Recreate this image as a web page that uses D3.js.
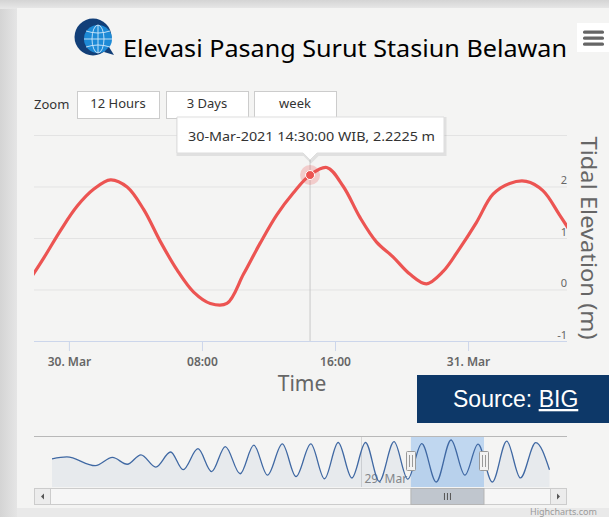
<!DOCTYPE html>
<html><head><meta charset="utf-8">
<script src="https://cdn.jsdelivr.net/npm/d3@7"></script>
<style>
html,body{margin:0;padding:0;background:#d8d8d8;overflow:hidden}
svg{display:block}
</style></head>
<body>
<svg id="chart" width="609" height="517"></svg>
<script>
// ---------------- data ----------------
const chartTitle = "Elevasi Pasang Surut Stasiun Belawan";
const xAxisTitle = "Time";
const yAxisTitle = "Tidal Elevation (m)";
const zoomLabels = ["12 Hours", "3 Days", "week"];
const sourceLabel = "Source: ";
const sourceLink = "BIG";

// main view (tidal elevation, m)
const tideTimes = [
  "2021-03-29 21:30","2021-03-29 22:30","2021-03-29 23:30","2021-03-30 00:30","2021-03-30 01:30",
  "2021-03-30 02:30","2021-03-30 03:30","2021-03-30 04:30","2021-03-30 05:30","2021-03-30 06:30",
  "2021-03-30 07:30","2021-03-30 08:30","2021-03-30 09:30","2021-03-30 10:30","2021-03-30 11:30",
  "2021-03-30 12:30","2021-03-30 13:30","2021-03-30 14:30","2021-03-30 15:30","2021-03-30 16:30",
  "2021-03-30 17:30","2021-03-30 18:30","2021-03-30 19:30","2021-03-30 20:30","2021-03-30 21:30",
  "2021-03-30 22:30","2021-03-30 23:30","2021-03-31 00:30","2021-03-31 01:30","2021-03-31 02:30",
  "2021-03-31 03:30","2021-03-31 04:30","2021-03-31 05:30","2021-03-31 06:30"];
const tideValues = [
  0.12, 0.62, 1.15, 1.62, 1.95,
  2.13, 1.99, 1.55, 0.93, 0.38,
  -0.05, -0.27, -0.27, 0.30, 0.90,
  1.45, 1.88, 2.2225, 2.37, 2.00,
  1.40, 0.92, 0.63, 0.30, 0.11,
  0.35, 0.80, 1.30, 1.85, 2.06,
  2.10, 1.92, 1.45, 0.95];

const viewStart = "2021-03-29 21:54";
const viewEnd   = "2021-03-31 05:57";
const xTickTimes  = ["2021-03-30 00:00","2021-03-30 08:00","2021-03-30 16:00","2021-03-31 00:00"];
const xTickLabels = ["30. Mar","08:00","16:00","31. Mar"];
const yGridTicks  = [-1, 0, 1, 2, 3];
const yLabelTicks = [-1, 0, 1, 2];
const hoverTime = "2021-03-30 14:30";

// navigator (whole series, highs / lows)
const navTimes = [
  "2021-03-23 08:30","2021-03-23 15:00","2021-03-24 03:30","2021-03-24 11:00","2021-03-24 17:30",
  "2021-03-24 23:30","2021-03-25 06:00","2021-03-25 12:30","2021-03-25 18:00","2021-03-26 00:30",
  "2021-03-26 06:30","2021-03-26 12:30","2021-03-26 19:00","2021-03-27 01:00","2021-03-27 07:00",
  "2021-03-27 13:30","2021-03-27 19:30","2021-03-28 02:00","2021-03-28 08:00","2021-03-28 14:00",
  "2021-03-28 20:00","2021-03-29 02:00","2021-03-29 08:00","2021-03-29 14:30","2021-03-29 20:30",
  "2021-03-30 02:40","2021-03-30 09:00","2021-03-30 15:30","2021-03-30 21:35","2021-03-31 03:20",
  "2021-03-31 09:35","2021-03-31 15:55","2021-03-31 21:55","2021-04-01 04:40","2021-04-01 10:40"];
const navValues = [
  1.16, 1.28, 0.72, 1.25, 0.81,
  1.42, 0.63, 1.60, 0.46, 1.81,
  0.34, 1.95, 0.20, 2.04, 0.11,
  2.12, 0.02, 2.12, -0.12, 2.21,
  -0.07, 2.21, -0.29, 2.26, -0.15,
  2.14, -0.33, 2.37, 0.11, 2.10,
  -0.33, 2.30, -0.07, 2.20, 0.46];
const navStart = "2021-03-23 00:36";
const navEnd   = "2021-04-01 18:21";
const navTickTimes = ["2021-03-29 00:00"];
const navTickLabels = ["29. Mar"];

// ---------------- drawing ----------------
const parse = d3.timeParse("%Y-%m-%d %H:%M");
const svg = d3.select("#chart");
const FONT = "'Noto Sans', 'Open Sans', sans-serif";

const defs = svg.append("defs");
const lg = defs.append("linearGradient").attr("id","lshadow").attr("x1",0).attr("x2",1).attr("y1",0).attr("y2",0);
lg.append("stop").attr("offset",0).attr("stop-color","#d4d4d4");
lg.append("stop").attr("offset",1).attr("stop-color","#e6e6e6");
const tg = defs.append("linearGradient").attr("id","tshadow").attr("x1",0).attr("x2",0).attr("y1",0).attr("y2",1);
tg.append("stop").attr("offset",0).attr("stop-color","#d4d4d4");
tg.append("stop").attr("offset",1).attr("stop-color","#e8e8e8");
defs.append("clipPath").attr("id","plotclip").append("rect")
  .attr("x",34).attr("y",120).attr("width",533).attr("height",230);
defs.append("clipPath").attr("id","navclip").append("rect")
  .attr("x",34).attr("y",436).attr("width",533).attr("height",51);

// page frame
svg.append("rect").attr("x",0).attr("y",0).attr("width",609).attr("height",517).attr("fill","#d9d9d9");
svg.append("rect").attr("x",0).attr("y",0).attr("width",18).attr("height",517).attr("fill","url(#lshadow)");
svg.append("rect").attr("x",0).attr("y",0).attr("width",609).attr("height",9).attr("fill","url(#tshadow)");
svg.append("rect").attr("x",17).attr("y",8).attr("width",592).attr("height",500).attr("fill","#f4f4f3");
svg.append("rect").attr("x",17).attr("y",508).attr("width",592).attr("height",9).attr("fill","#e9e9e9");
svg.append("text").attr("x",530).attr("y",515).attr("font-family",FONT).attr("font-size",9)
  .attr("fill","#999").text("Highcharts.com");

// logo
const logo = svg.append("g");
logo.append("circle").attr("cx",93).attr("cy",37).attr("r",18.5).attr("fill","#123f78");
logo.append("circle").attr("cx",98).attr("cy",39).attr("r",14).attr("fill","#1d8ad6");
const gl = logo.append("g").attr("stroke","#cfe8fa").attr("stroke-width",0.9).attr("fill","none");
gl.append("ellipse").attr("cx",98).attr("cy",39).attr("rx",6).attr("ry",14);
gl.append("line").attr("x1",98).attr("x2",98).attr("y1",25).attr("y2",53);
gl.append("line").attr("x1",84).attr("x2",112).attr("y1",39).attr("y2",39);
gl.append("path").attr("d","M86,31 Q98,35 110,31 M86,47 Q98,43 110,47");
logo.append("path").attr("d","M104,52 L114,55 L109,47 Z").attr("fill","#123f78");

// title
svg.append("text").attr("x",123).attr("y",57).attr("font-family",FONT).attr("font-size",23)
  .attr("fill","#000").attr("textLength",444).attr("lengthAdjust","spacingAndGlyphs").text(chartTitle);

// menu button
svg.append("rect").attr("x",577).attr("y",23).attr("width",34).attr("height",29).attr("fill","#ffffff");
[32,38,44].forEach(yy => svg.append("rect").attr("x",583).attr("y",yy-1.5).attr("width",21).attr("height",3.2)
  .attr("rx",1.5).attr("fill","#666"));

// zoom buttons
svg.append("text").attr("x",34).attr("y",109).attr("font-family",FONT).attr("font-size",13)
  .attr("fill","#333").text("Zoom");
const btnX = [77,166,254];
zoomLabels.forEach((lab,i) => {
  svg.append("rect").attr("x",btnX[i]+0.5).attr("y",91.5).attr("width",82).attr("height",27)
    .attr("fill","#fff").attr("stroke","#cccccc");
  svg.append("text").attr("x",btnX[i]+41).attr("y",108).attr("text-anchor","middle")
    .attr("font-family",FONT).attr("font-size",13).attr("fill","#333").text(lab);
});

// scales
const x = d3.scaleTime().domain([parse(viewStart), parse(viewEnd)]).range([34, 567]);
const y = d3.scaleLinear().domain([-1, 3]).range([341, 135]);

// y grid + labels (axis on right)
const yAxis = d3.axisRight(y).tickValues(yGridTicks).tickSize(-533).tickFormat(d => yLabelTicks.includes(d) ? d : "");
const yg = svg.append("g").attr("transform","translate(567,0)").call(yAxis);
yg.select(".domain").remove();
yg.selectAll(".tick line").attr("stroke", d => d === -1 ? "#ccd6eb" : "#e3e3e3");
yg.selectAll(".tick text").attr("x",0).attr("dy","-3").attr("text-anchor","end")
  .attr("font-family",FONT).attr("font-size",11).attr("fill","#666");

// x axis
const xTickDates = xTickTimes.map(parse);
const xAxis = d3.axisBottom(x).tickValues(xTickDates).tickSize(10).tickPadding(6)
  .tickFormat((d,i) => xTickLabels[i]);
const xg = svg.append("g").attr("transform","translate(0,341)").call(xAxis);
xg.select(".domain").remove();
xg.selectAll(".tick line").attr("stroke","#ccd6eb");
xg.selectAll(".tick text").attr("font-family",FONT).attr("font-size",12).attr("font-weight",600).attr("fill","#666");

// axis titles
svg.append("text").attr("x",302).attr("y",391).attr("text-anchor","middle").attr("font-family",FONT)
  .attr("font-size",21).attr("fill","#666").text(xAxisTitle);
svg.append("text").attr("transform","translate(581,238) rotate(90)").attr("text-anchor","middle")
  .attr("font-family",FONT).attr("font-size",21).attr("fill","#666")
  .attr("textLength",203).attr("lengthAdjust","spacingAndGlyphs").text(yAxisTitle);

// crosshair
const hx = x(parse(hoverTime));
svg.append("line").attr("x1",hx).attr("x2",hx).attr("y1",135).attr("y2",341).attr("stroke","#c8c8c8");

// series
const tide = tideTimes.map((t,i) => ({t: parse(t), v: tideValues[i]}));
const line = d3.line().x(d => x(d.t)).y(d => y(d.v)).curve(d3.curveCatmullRom.alpha(0.5));
svg.append("path").datum(tide).attr("clip-path","url(#plotclip)").attr("d",line)
  .attr("fill","none").attr("stroke","#ec5452").attr("stroke-width",3.2)
  .attr("stroke-linejoin","round").attr("stroke-linecap","round");

// hover marker
const hp = tide.find(d => +d.t === +parse(hoverTime));
svg.append("circle").attr("cx",x(hp.t)).attr("cy",y(hp.v)).attr("r",10).attr("fill","rgba(236,84,82,0.25)");
svg.append("circle").attr("cx",x(hp.t)).attr("cy",y(hp.v)).attr("r",4.5).attr("fill","#ec5452")
  .attr("stroke","#fff").attr("stroke-width",1);

// source box
svg.append("rect").attr("x",417).attr("y",375).attr("width",192).attr("height",48).attr("fill","#0d3868");
const src = svg.append("text").attr("x",453).attr("y",407).attr("font-family","'Liberation Sans', Arial, sans-serif")
  .attr("font-size",23).attr("fill","#fff");
src.append("tspan").text(sourceLabel);
src.append("tspan").attr("text-decoration","underline").text(sourceLink);

// ---------------- navigator ----------------
const nx = d3.scaleTime().domain([parse(navStart), parse(navEnd)]).range([34, 567]);
const ny = d3.scaleLinear().domain([d3.min(navValues), d3.max(navValues)]).range([482, 440]);
const nav = navTimes.map((t,i) => ({t: parse(t), v: navValues[i]}));

navTickTimes.forEach((t,i) => {
  const px = Math.round(nx(parse(t))) + 0.5;
  svg.append("line").attr("x1",px).attr("x2",px).attr("y1",436).attr("y2",487).attr("stroke","#d6d6d6");
  svg.append("text").attr("x",px+3).attr("y",483).attr("font-family",FONT).attr("font-size",12)
    .attr("fill","#888").text(navTickLabels[i]);
});

const navArea = d3.area().x(d => nx(d.t)).y0(487).y1(d => ny(d.v)).curve(d3.curveMonotoneX);
const navLine = d3.line().x(d => nx(d.t)).y(d => ny(d.v)).curve(d3.curveMonotoneX);
svg.append("path").datum(nav).attr("clip-path","url(#navclip)").attr("d",navArea).attr("fill","rgba(69,114,167,0.07)");

// selected range
const sx0 = nx(parse(viewStart)), sx1 = nx(parse(viewEnd));
svg.append("rect").attr("x",sx0).attr("y",436).attr("width",sx1-sx0).attr("height",51)
  .attr("fill","rgba(120,175,235,0.42)");

svg.append("path").datum(nav).attr("clip-path","url(#navclip)").attr("d",navLine)
  .attr("fill","none").attr("stroke","#3f68a3").attr("stroke-width",1.3);

svg.append("line").attr("x1",34).attr("x2",567).attr("y1",436.5).attr("y2",436.5).attr("stroke","#b8b8b8").attr("stroke-width",1.2);

// handles
[sx0, sx1].forEach(hx2 => {
  const cx = Math.round(hx2);
  svg.append("rect").attr("x",cx-4.5).attr("y",451.5).attr("width",9).attr("height",19)
    .attr("fill","#f2f2f2").attr("stroke","#999").attr("rx",1);
  [cx-1.5, cx+1.5].forEach(lx => svg.append("line").attr("x1",lx).attr("x2",lx).attr("y1",455).attr("y2",467)
    .attr("stroke","#999"));
});

// scrollbar
svg.append("rect").attr("x",34.5).attr("y",488.5).attr("width",532).attr("height",16)
  .attr("fill","#f6f6f6").attr("stroke","#cccccc");
svg.append("rect").attr("x",sx0).attr("y",488.5).attr("width",sx1-sx0).attr("height",16)
  .attr("fill","#c0c6ce").attr("stroke","#b5b5b5");
[-3,0,3].forEach(o => svg.append("line").attr("x1",(sx0+sx1)/2+o).attr("x2",(sx0+sx1)/2+o)
  .attr("y1",493).attr("y2",500).attr("stroke","#555"));
[[34.5,-1],[550.5,1]].forEach(([bx,dir]) => {
  svg.append("rect").attr("x",bx).attr("y",488.5).attr("width",16).attr("height",16)
    .attr("fill","#ececec").attr("stroke","#cccccc");
  const c = bx + 8;
  svg.append("path").attr("d", dir < 0
      ? `M${c+1.5},${493.5} L${c-1.5},${496.5} L${c+1.5},${499.5} Z`
      : `M${c-1.5},${493.5} L${c+1.5},${496.5} L${c-1.5},${499.5} Z`).attr("fill","#555");
});

// ---------------- tooltip ----------------
const fmt = d3.timeFormat("%d-%b-%Y %H:%M:%S");
const tipText = `${fmt(hp.t)} WIB, ${hp.v} m`;
const tx0 = 177, tx1 = 444, ty0 = 117, ty1 = 153, tipY = 160;
const tipPath = `M${tx0},${ty0} H${tx1} V${ty1} H${hx+7} L${hx},${tipY} L${hx-7},${ty1} H${tx0} Z`;
svg.append("path").attr("d",tipPath).attr("transform","translate(1,1.5)").attr("fill","none")
  .attr("stroke","rgba(0,0,0,0.08)").attr("stroke-width",3);
svg.append("path").attr("d",tipPath).attr("fill","rgba(255,255,255,0.97)").attr("stroke","#dddddd");
svg.append("text").attr("x",188).attr("y",141).attr("font-family",FONT).attr("font-size",13)
  .attr("fill","#333").attr("textLength",247).attr("lengthAdjust","spacingAndGlyphs").text(tipText);
</script>
</body></html>
